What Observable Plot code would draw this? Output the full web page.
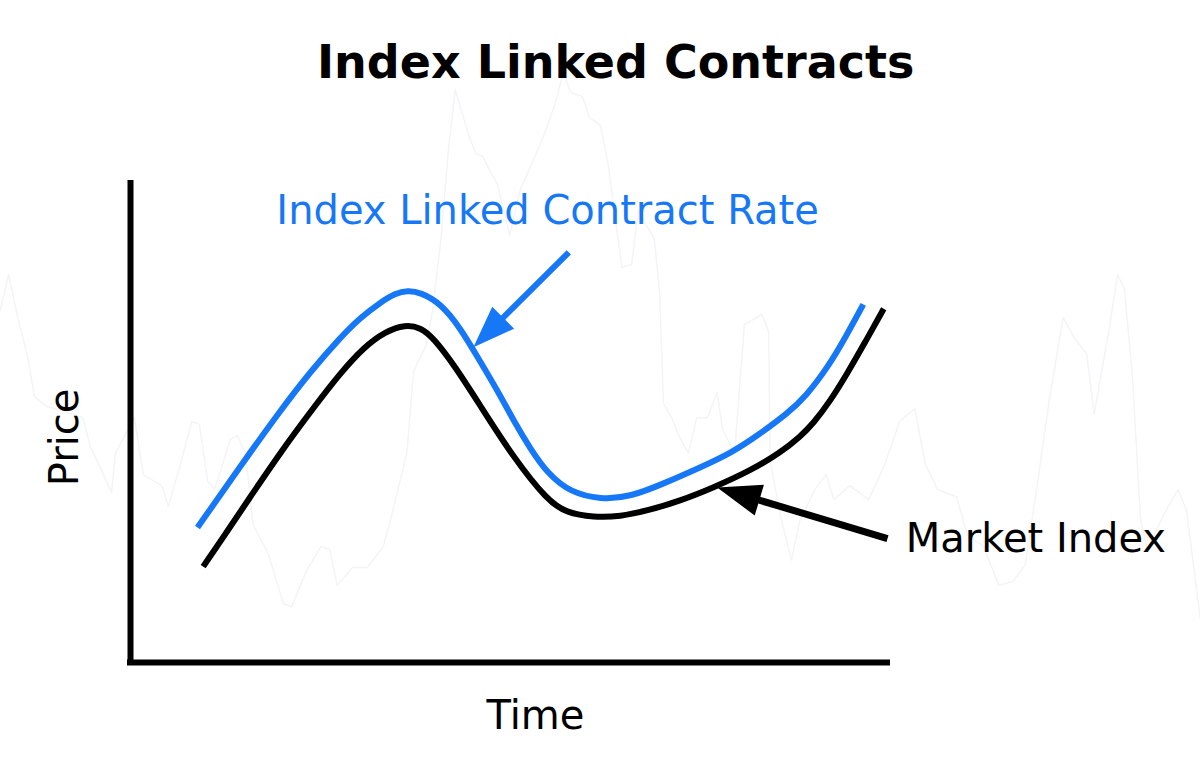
<!DOCTYPE html>
<html>
<head>
<meta charset="utf-8">
<script src="https://cdn.jsdelivr.net/npm/d3@7"></script>
<script src="https://cdn.jsdelivr.net/npm/@observablehq/plot@0.6"></script>
<style>
  html, body { margin: 0; padding: 0; background: #ffffff; }
  #chart svg { display: block; }
</style>
</head>
<body>
<div id="chart"></div>
<script>
// ---------- data (time 0–100, price 0–100 along the drawn axes) ----------
const marketTime  = [9.6, 12.6, 15.5, 19.8, 24.2, 27.7, 30.8, 33.7, 36.3, 38.3, 40.0, 42.9, 46.2, 50.6, 55.1, 57.5, 61.2, 64.7, 68.3, 72.7, 77.0, 81.9, 85.9, 88.5, 90.2, 92.5, 94.7, 97.1, 99.5];
const marketIndex = [19.9, 26.8, 33.6, 43.6, 52.9, 60.0, 65.4, 68.7, 70.1, 69.5, 67.4, 61.4, 53.3, 42.5, 33.6, 31.1, 30.1, 30.3, 31.5, 33.6, 36.3, 39.8, 43.6, 46.9, 49.6, 54.4, 60.0, 66.6, 73.4];

const contractTime = [8.85, 14.5, 19.8, 23.8, 27.7, 30.4, 33.0, 35.0, 36.6, 38.3, 41.0, 43.6, 45.8, 48.5, 50.6, 52.8, 55.1, 58.1, 62.1, 66.1, 70.4, 75.3, 79.3, 83.2, 86.8, 89.2, 92.1, 94.5, 96.8];
const contractRate = [28.0, 40.7, 52.3, 60.4, 67.4, 71.6, 74.7, 76.6, 77.2, 76.8, 74.5, 69.3, 63.5, 56.4, 50.2, 44.4, 39.2, 35.3, 33.8, 34.4, 37.1, 40.5, 43.4, 47.5, 51.7, 55.2, 61.2, 67.6, 74.3];

// faint background price history (watermark)
const backgroundTime  = [-17.2, -16.1, -14.9, -13.6, -12.7, -11.1, -9.1, -6.3, -5.3, -2.5, -2.0, 0.5, 1.7, 4.1, 5.0, 6.6, 8.1, 9.1, 10.2, 11.1, 13.2, 14.1, 15.2, 16.2, 18.2, 20.2, 21.3, 23.2, 25.2, 26.3, 27.3, 29.3, 31.3, 33.4, 34.3, 36.5, 37.4, 39.0, 39.9, 41.0, 42.0, 42.9, 44.5, 45.6, 46.5, 48.5, 50.1, 51.5, 53.6, 54.6, 56.1, 57.2, 58.1, 59.7, 60.6, 62.1, 63.1, 64.1, 64.9, 66.2, 67.1, 69.2, 69.9, 70.4, 71.5, 72.4, 73.7, 74.8, 76.2, 77.5, 78.2, 79.8, 81.1, 83.4, 84.3, 84.5, 85.9, 87.3, 88.4, 90.4, 91.9, 92.9, 95.0, 97.5, 99.5, 101.6, 103.6, 105.0, 106.6, 109.1, 110.6, 112.7, 114.7, 116.6, 118.2, 119.7, 121.3, 123.2, 124.8, 126.3, 127.3, 128.3, 129.3, 130.4, 131.3, 132.4, 133.4, 134.3, 136.5, 138.4, 139.5, 141.3];
const backgroundPrice = [73.0, 80.5, 71.6, 63.5, 55.2, 53.1, 52.3, 50.8, 44.8, 35.3, 43.4, 50.8, 39.0, 36.7, 32.4, 41.1, 50.0, 49.4, 37.6, 35.9, 46.3, 47.1, 43.4, 28.6, 22.6, 12.2, 11.6, 18.9, 24.1, 23.4, 16.0, 19.7, 19.7, 24.1, 29.3, 43.4, 60.4, 65.6, 73.0, 87.8, 106.4, 118.9, 110.2, 105.6, 105.0, 99.0, 88.6, 98.1, 105.6, 109.3, 116.0, 122.6, 118.3, 117.4, 113.1, 111.4, 103.3, 91.5, 82.0, 82.6, 93.8, 87.8, 76.8, 53.7, 50.8, 47.1, 43.4, 50.8, 50.8, 56.0, 48.5, 43.4, 70.1, 72.2, 68.7, 41.9, 30.1, 21.2, 29.3, 35.9, 39.0, 33.8, 36.7, 33.8, 40.5, 50.0, 52.7, 41.1, 35.9, 34.4, 26.3, 24.1, 16.0, 16.8, 20.3, 35.9, 53.7, 71.6, 67.0, 64.1, 51.5, 60.4, 69.3, 80.5, 77.4, 58.3, 30.1, 23.4, 30.7, 35.9, 31.5, 9.3];

// texts
const titleText     = "Index Linked Contracts";
const contractLabel = "Index Linked Contract Rate";
const marketLabel   = "Market Index";
const xAxisLabel    = "Time";
const yAxisLabel    = "Price";

// ---------- build tables ----------
const market     = marketTime.map((t, i) => ({t, v: marketIndex[i]}));
const contract   = contractTime.map((t, i) => ({t, v: contractRate[i]}));
const background = backgroundTime.map((t, i) => ({t, v: backgroundPrice[i]}));

// ---------- layout / style ----------
const W = 1200, H = 766;
const mL = 130, mR = 313, mT = 180, mB = 104;
const kx = (W - mL - mR) / 100;   // px per time unit
const ky = (H - mT - mB) / 100;   // px per price unit
const BLUE = "#1778f7";
const FONT = "DejaVu Sans";

// filled arrow head symbol: tip at origin, pointing "up"
function headSymbol(len, wid) {
  return {
    draw(ctx) {
      ctx.moveTo(0, 0);
      ctx.lineTo(wid / 2, len);
      ctx.lineTo(-wid / 2, len);
      ctx.closePath();
    }
  };
}

function arrow(tail, tip, color, width, headLen, headWid) {
  const dx = (tip[0] - tail[0]) * kx;
  const dy = -(tip[1] - tail[1]) * ky;
  const n = Math.hypot(dx, dy);
  const ux = dx / n, uy = dy / n;
  const angle = Math.atan2(ux, -uy) * 180 / Math.PI;
  const back = headLen - 6;
  const shaftEnd = [tip[0] - back * ux / kx, tip[1] + back * uy / ky];
  return [
    Plot.link([{}], {
      x1: () => tail[0], y1: () => tail[1],
      x2: () => shaftEnd[0], y2: () => shaftEnd[1],
      stroke: color, strokeWidth: width, strokeLinecap: "butt"
    }),
    Plot.dot([{}], {
      x: () => tip[0], y: () => tip[1],
      symbol: headSymbol(headLen, headWid), rotate: angle,
      fill: color, stroke: "none"
    })
  ];
}

const chart = Plot.plot({
  width: W,
  height: H,
  marginLeft: mL,
  marginRight: mR,
  marginTop: mT,
  marginBottom: mB,
  x: {domain: [0, 100], axis: null},
  y: {domain: [0, 100], axis: null},
  style: {fontFamily: FONT, background: "#ffffff", overflow: "visible"},
  marks: [
    // faint watermark
    Plot.line(background, {x: "t", y: "v", stroke: "#f3f4f8", strokeWidth: 1.5}),
    // axes
    Plot.ruleX([0], {stroke: "#000", strokeWidth: 6}),
    Plot.ruleY([0], {stroke: "#000", strokeWidth: 6, strokeLinecap: "square"}),
    // series
    Plot.line(market,   {x: "t", y: "v", stroke: "#000", strokeWidth: 6, curve: "basis", strokeLinecap: "butt"}),
    Plot.line(contract, {x: "t", y: "v", stroke: BLUE,   strokeWidth: 6, curve: "basis", strokeLinecap: "butt"}),
    // annotation arrows
    ...arrow([57.9, 85.1], [45.3, 65.4], BLUE, 6, 42, 31),
    ...arrow([100.0, 25.7], [77.5, 36.3], "#000", 7, 44, 32),
    // texts
    Plot.text([titleText], {x: () => 64.1, y: () => 121.2, text: d => d, fontSize: 46, fontWeight: "bold",
      fontFamily: FONT, fill: "#000", textAnchor: "middle", lineAnchor: "bottom"}),
    Plot.text([contractLabel], {x: () => 55.1, y: () => 90.9, text: d => d, fontSize: 40,
      fontFamily: FONT, fill: BLUE, textAnchor: "middle", lineAnchor: "bottom"}),
    Plot.text([marketLabel], {x: () => 102.4, y: () => 23.0, text: d => d, fontSize: 40,
      fontFamily: FONT, fill: "#000", textAnchor: "start", lineAnchor: "bottom"}),
    Plot.text([xAxisLabel], {x: () => 53.5, y: () => -13.7, text: d => d, fontSize: 40,
      fontFamily: FONT, fill: "#000", textAnchor: "middle", lineAnchor: "bottom"}),
    Plot.text([yAxisLabel], {x: () => -8.6, y: () => 46.7, text: d => d, fontSize: 40, rotate: -90,
      fontFamily: FONT, fill: "#000", textAnchor: "middle", lineAnchor: "middle"})
  ]
});

document.getElementById("chart").appendChild(chart);
</script>
</body>
</html>
